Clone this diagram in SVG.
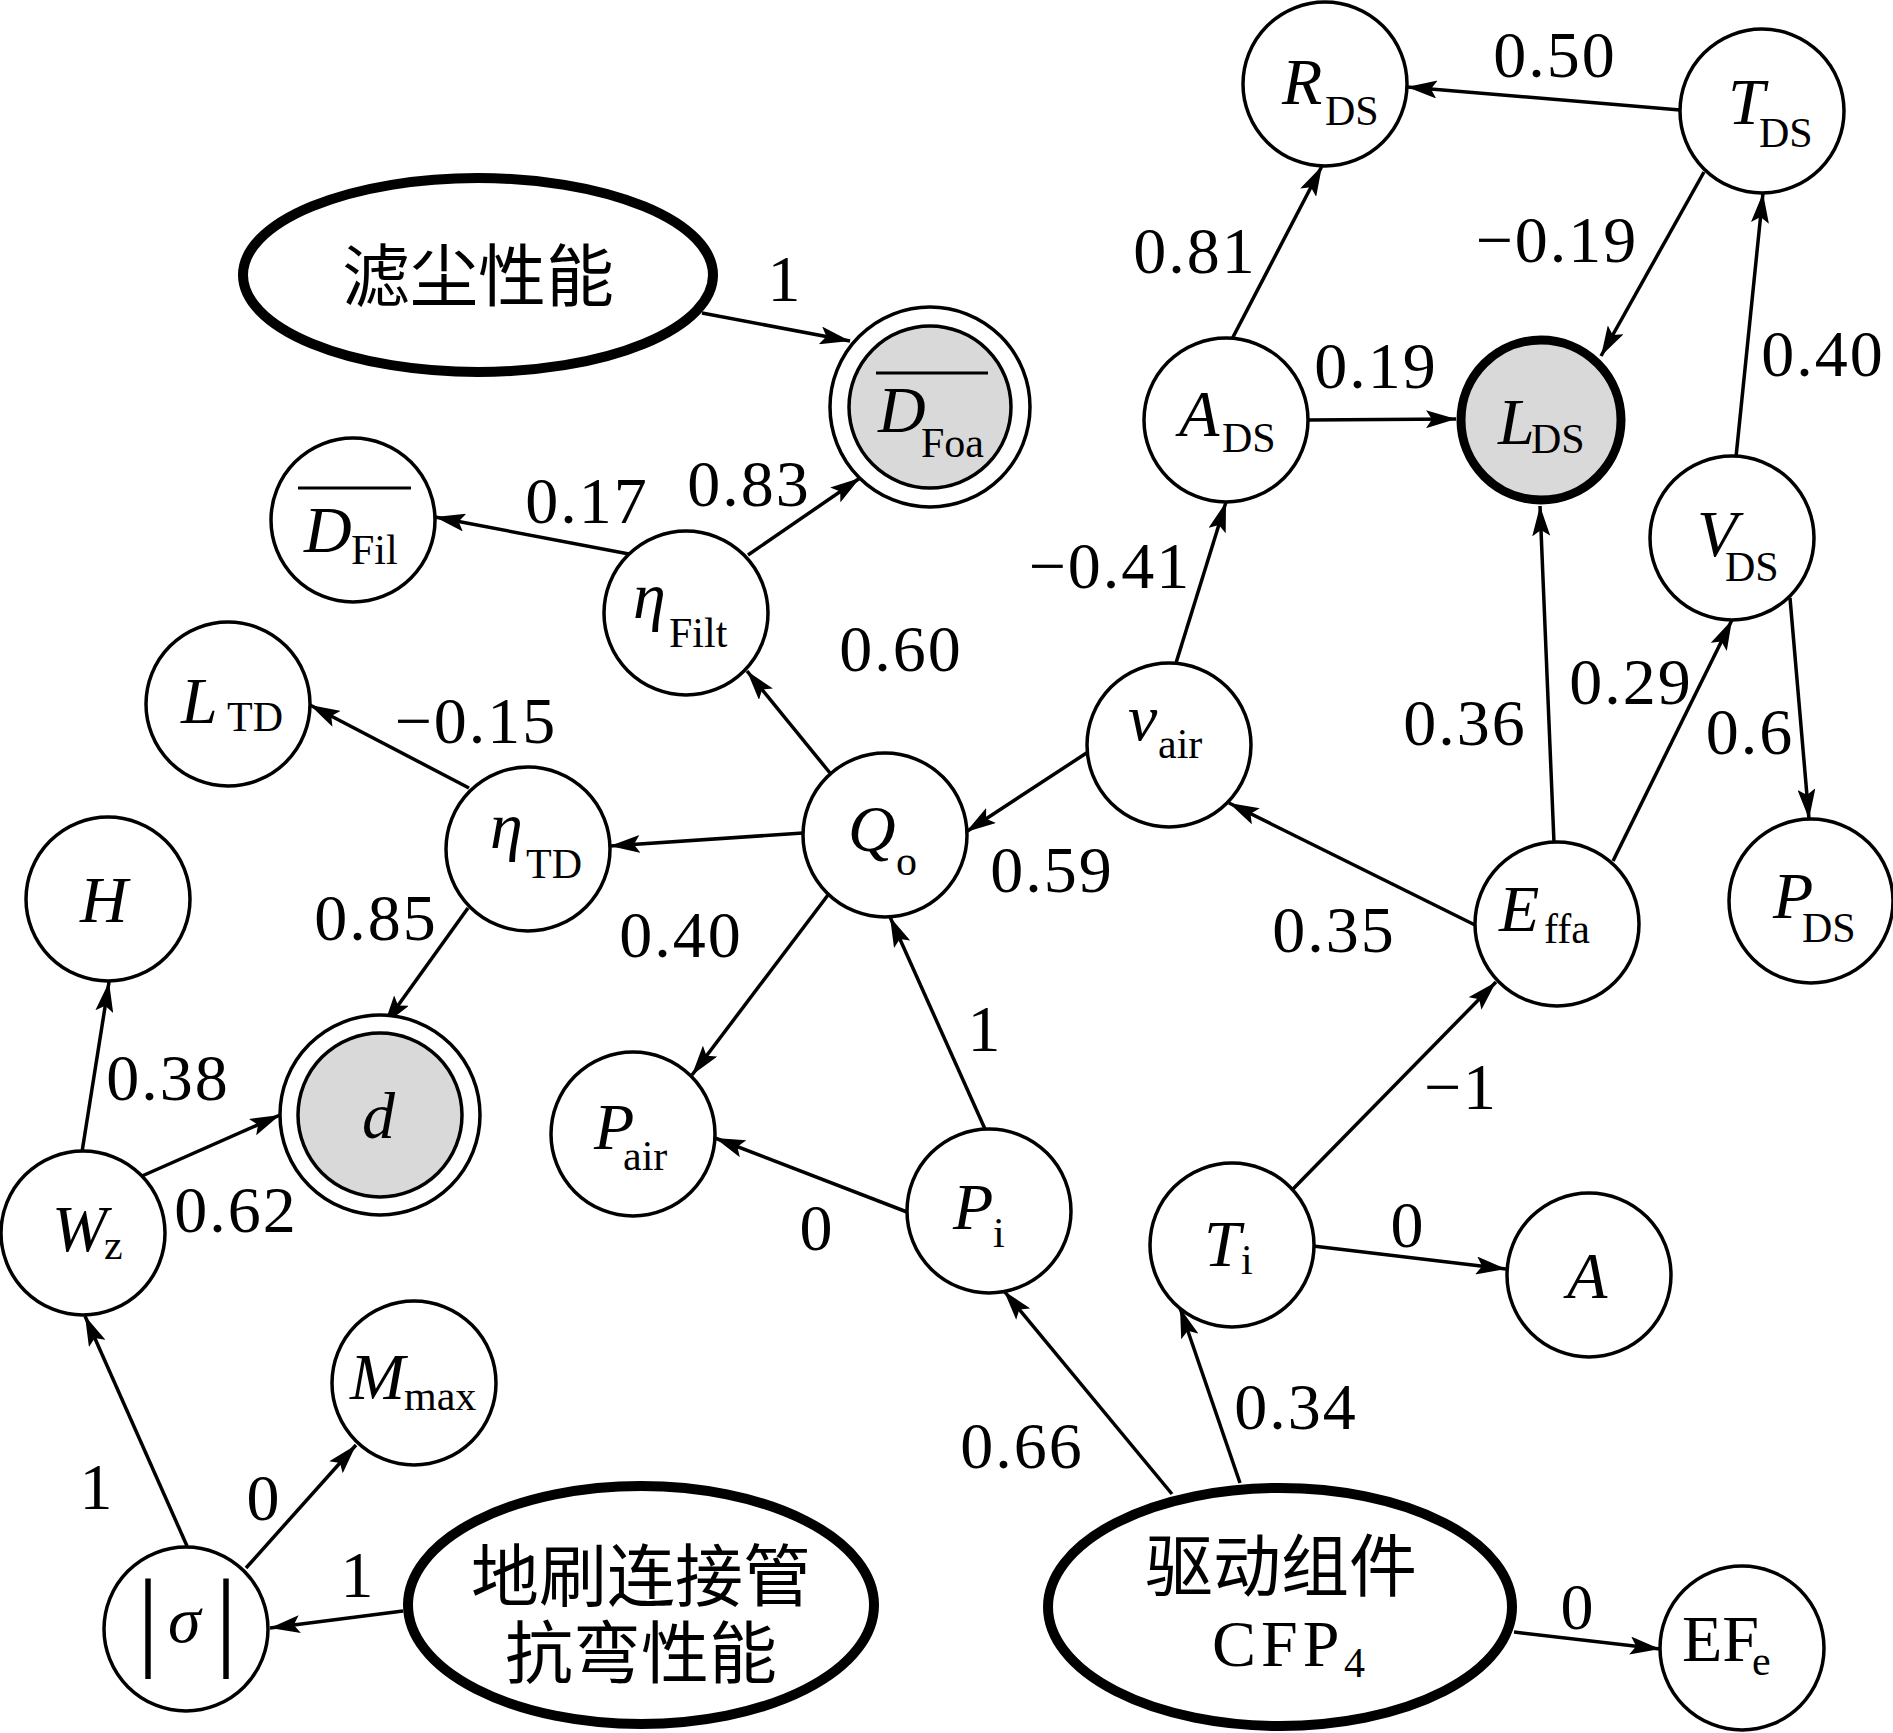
<svg xmlns="http://www.w3.org/2000/svg" width="1893" height="1733" viewBox="0 0 1893 1733">
<defs>
<style>
.n{fill:#fff;stroke:#000;stroke-width:3.5}
.g{fill:#d9d9d9;stroke:#000;stroke-width:3.5}
.thick{fill:#fff;stroke:#000;stroke-width:10}
.e{fill:none;stroke:#000;stroke-width:3.5;marker-end:url(#ah)}
.t{font-family:"Liberation Serif","Times New Roman",serif;font-size:66px;fill:#000}
.it{font-style:italic}
.sub{font-size:42px;font-style:normal}
.num{font-family:"Liberation Serif","Times New Roman",serif;font-size:66px;letter-spacing:2px;text-anchor:middle;fill:#000}
.cjk{font-family:"Noto Sans CJK SC",sans-serif;font-size:68px;text-anchor:middle;fill:#000}
</style>
<marker id="ah" viewBox="0 0 30 18" refX="30" refY="9" markerWidth="30" markerHeight="18" markerUnits="userSpaceOnUse" orient="auto">
<path d="M0,0 L30,9 L0,18 L6,9 Z" fill="#000"/>
</marker>
</defs>
<rect width="1893" height="1733" fill="#fff"/>

<g id="connectors">
<line class="e" x1="1680" y1="110" x2="1407" y2="87"/>
<line class="e" x1="1232" y1="339" x2="1322" y2="166"/>
<line class="e" x1="1704" y1="172" x2="1601" y2="356"/>
<line class="e" x1="1736" y1="457" x2="1763" y2="193"/>
<line class="e" x1="1307" y1="420" x2="1456" y2="419"/>
<line class="e" x1="1176" y1="663" x2="1226" y2="502"/>
<line class="e" x1="1554" y1="843" x2="1540" y2="506"/>
<line class="e" x1="1613" y1="861" x2="1732" y2="620"/>
<line class="e" x1="1790" y1="598" x2="1809" y2="819"/>
<line class="e" x1="1475" y1="925" x2="1229" y2="803"/>
<line class="e" x1="1088" y1="752" x2="966" y2="832"/>
<line class="e" x1="830" y1="773" x2="747" y2="671"/>
<line class="e" x1="803" y1="833" x2="610" y2="846"/>
<line class="e" x1="828" y1="895" x2="692" y2="1075"/>
<line class="e" x1="985" y1="1129" x2="890" y2="917"/>
<line class="e" x1="907" y1="1212" x2="715" y2="1138"/>
<line class="e" x1="629" y1="554" x2="435" y2="517"/>
<line class="e" x1="748" y1="555" x2="860" y2="478"/>
<line class="e" x1="702" y1="313" x2="850" y2="341"/>
<line class="e" x1="469" y1="788" x2="310" y2="705"/>
<line class="e" x1="468" y1="908" x2="384" y2="1025"/>
<line class="e" x1="82" y1="1152" x2="109" y2="982"/>
<line class="e" x1="142" y1="1176" x2="280" y2="1115"/>
<line class="e" x1="187" y1="1546" x2="85" y2="1316"/>
<line class="e" x1="246" y1="1568" x2="356" y2="1445"/>
<line class="e" x1="403" y1="1611" x2="270" y2="1628"/>
<line class="e" x1="1172" y1="1494" x2="1004" y2="1291"/>
<line class="e" x1="1240" y1="1483" x2="1180" y2="1308"/>
<line class="e" x1="1293" y1="1189" x2="1496" y2="982"/>
<line class="e" x1="1313" y1="1246" x2="1506" y2="1269"/>
<line class="e" x1="1514" y1="1632" x2="1660" y2="1649"/>
</g>

<g id="edge-labels">
<text class="num" x="1555" y="77">0.50</text>
<text class="num" x="1195" y="273">0.81</text>
<text class="num" x="1557" y="262">−0.19</text>
<text class="num" x="1823" y="376">0.40</text>
<text class="num" x="1376" y="388">0.19</text>
<text class="num" x="1110" y="588">−0.41</text>
<text class="num" x="1465" y="745">0.36</text>
<text class="num" x="1631" y="704">0.29</text>
<text class="num" x="1750" y="754">0.6</text>
<text class="num" x="1334" y="952">0.35</text>
<text class="num" x="1052" y="892">0.59</text>
<text class="num" x="901" y="671">0.60</text>
<text class="num" x="681" y="957">0.40</text>
<text class="num" x="985" y="1051">1</text>
<text class="num" x="817" y="1250">0</text>
<text class="num" x="587" y="523">0.17</text>
<text class="num" x="749" y="506">0.83</text>
<text class="num" x="785" y="301">1</text>
<text class="num" x="476" y="743">−0.15</text>
<text class="num" x="376" y="940">0.85</text>
<text class="num" x="168" y="1100">0.38</text>
<text class="num" x="236" y="1232">0.62</text>
<text class="num" x="97" y="1509">1</text>
<text class="num" x="264" y="1520">0</text>
<text class="num" x="358" y="1597">1</text>
<text class="num" x="1022" y="1468">0.66</text>
<text class="num" x="1296" y="1429">0.34</text>
<text class="num" x="1461" y="1109">−1</text>
<text class="num" x="1408" y="1247">0</text>
<text class="num" x="1578" y="1629">0</text>
</g>

<g id="node-filter-perf">
<ellipse class="thick" cx="478" cy="275" rx="235" ry="97"/>
<text class="cjk" x="478" y="301">滤尘性能</text>
</g>
<g id="node-D-Foa">
<circle class="n" cx="930" cy="407" r="100"/>
<circle class="g" cx="930" cy="407" r="81"/>
<line x1="876" y1="373" x2="988" y2="373" stroke="#000" stroke-width="3"/>
<text class="t"><tspan class="it" x="878" y="432">D</tspan><tspan class="sub" x="921" y="457">Foa</tspan></text>
</g>
<g id="node-D-Fil">
<circle class="n" cx="353" cy="520" r="82"/>
<line x1="298" y1="488" x2="411" y2="488" stroke="#000" stroke-width="3"/>
<text class="t"><tspan class="it" x="304" y="552">D</tspan><tspan class="sub" x="351" y="564">Fil</tspan></text>
</g>
<g id="node-eta-Filt">
<circle class="n" cx="686" cy="613" r="82"/>
<text class="t"><tspan class="it" x="633" y="618">η</tspan><tspan class="sub" x="669" y="647">Filt</tspan></text>
</g>
<g id="node-R-DS">
<circle class="n" cx="1325" cy="84" r="82"/>
<text class="t"><tspan class="it" x="1282" y="104">R</tspan><tspan class="sub" x="1325" y="125">DS</tspan></text>
</g>
<g id="node-T-DS">
<circle class="n" cx="1762" cy="111" r="82"/>
<text class="t"><tspan class="it" x="1728" y="124">T</tspan><tspan class="sub" x="1759" y="147">DS</tspan></text>
</g>
<g id="node-A-DS">
<circle class="n" cx="1226" cy="420" r="82"/>
<text class="t"><tspan class="it" x="1179" y="436">A</tspan><tspan class="sub" x="1222" y="452">DS</tspan></text>
</g>
<g id="node-L-DS">
<circle cx="1541" cy="420" r="80" fill="#d9d9d9" stroke="#000" stroke-width="9"/>
<text class="t"><tspan class="it" x="1498" y="444">L</tspan><tspan class="sub" x="1531" y="453">DS</tspan></text>
</g>
<g id="node-V-DS">
<circle class="n" cx="1732" cy="538" r="82"/>
<text class="t"><tspan class="it" x="1697" y="556">V</tspan><tspan class="sub" x="1725" y="581">DS</tspan></text>
</g>
<g id="node-L-TD">
<circle class="n" cx="228" cy="704" r="82"/>
<text class="t"><tspan class="it" x="181" y="723">L</tspan><tspan class="sub" x="227" y="731">TD</tspan></text>
</g>
<g id="node-v-air">
<circle class="n" cx="1169" cy="745" r="82"/>
<text class="t"><tspan class="it" x="1128" y="740">v</tspan><tspan class="sub" x="1158" y="758">air</tspan></text>
</g>
<g id="node-eta-TD">
<circle class="n" cx="528" cy="849" r="82"/>
<text class="t"><tspan class="it" x="490" y="848">η</tspan><tspan class="sub" x="526" y="878">TD</tspan></text>
</g>
<g id="node-Q-o">
<circle class="n" cx="885" cy="835" r="82"/>
<text class="t"><tspan class="it" x="848" y="851">Q</tspan><tspan class="sub" x="896" y="875">o</tspan></text>
</g>
<g id="node-H">
<circle class="n" cx="108" cy="899" r="82"/>
<text class="t it" x="80" y="922">H</text>
</g>
<g id="node-E-ffa">
<circle class="n" cx="1557" cy="924" r="82"/>
<text class="t"><tspan class="it" x="1499" y="931">E</tspan><tspan class="sub" x="1544" y="943">ffa</tspan></text>
</g>
<g id="node-P-DS">
<circle class="n" cx="1811" cy="901" r="82"/>
<text class="t"><tspan class="it" x="1773" y="918">P</tspan><tspan class="sub" x="1802" y="942">DS</tspan></text>
</g>
<g id="node-d">
<circle class="n" cx="380" cy="1115" r="100"/>
<circle class="g" cx="380" cy="1115" r="82"/>
<text class="t it" x="362" y="1138">d</text>
</g>
<g id="node-P-air">
<circle class="n" cx="633" cy="1134" r="82"/>
<text class="t"><tspan class="it" x="594" y="1149">P</tspan><tspan class="sub" x="623" y="1170">air</tspan></text>
</g>
<g id="node-W-z">
<circle class="n" cx="83" cy="1233" r="82"/>
<text class="t"><tspan class="it" x="52" y="1251">W</tspan><tspan class="sub" x="104" y="1259">z</tspan></text>
</g>
<g id="node-P-i">
<circle class="n" cx="989" cy="1211" r="82"/>
<text class="t"><tspan class="it" x="953" y="1229">P</tspan><tspan class="sub it" x="993" y="1247">i</tspan></text>
</g>
<g id="node-T-i">
<circle class="n" cx="1232" cy="1245" r="82"/>
<text class="t"><tspan class="it" x="1204" y="1266">T</tspan><tspan class="sub" x="1241" y="1274">i</tspan></text>
</g>
<g id="node-A">
<circle class="n" cx="1589" cy="1275" r="82"/>
<text class="t it" x="1567" y="1298">A</text>
</g>
<g id="node-M-max">
<circle class="n" cx="414" cy="1383" r="82"/>
<text class="t"><tspan class="it" x="350" y="1399">M</tspan><tspan class="sub" x="404" y="1410">max</tspan></text>
</g>
<g id="node-sigma">
<circle class="n" cx="186" cy="1629" r="82"/>
<text class="t"><tspan x="137" y="1656" font-size="110">|</tspan><tspan class="it" x="168" y="1642">σ</tspan><tspan x="215" y="1656" font-size="110">|</tspan></text>
</g>
<g id="node-bending-perf">
<ellipse class="thick" cx="641" cy="1605" rx="233" ry="119"/>
<text class="cjk" x="641" y="1601">地刷连接管</text>
<text class="cjk" x="641" y="1678">抗弯性能</text>
</g>
<g id="node-drive-CFP4">
<ellipse class="thick" cx="1280" cy="1607" rx="232" ry="119"/>
<text class="cjk" x="1281" y="1591">驱动组件</text>
<text class="t" font-size="68"><tspan x="1212" y="1666" letter-spacing="5">CFP</tspan><tspan class="sub" x="1344" y="1677">4</tspan></text>
</g>
<g id="node-EF-e">
<circle class="n" cx="1742" cy="1648" r="82"/>
<text class="t" font-size="60"><tspan x="1682" y="1661">EF</tspan><tspan class="sub" x="1752" y="1675">e</tspan></text>
</g>
</svg>
